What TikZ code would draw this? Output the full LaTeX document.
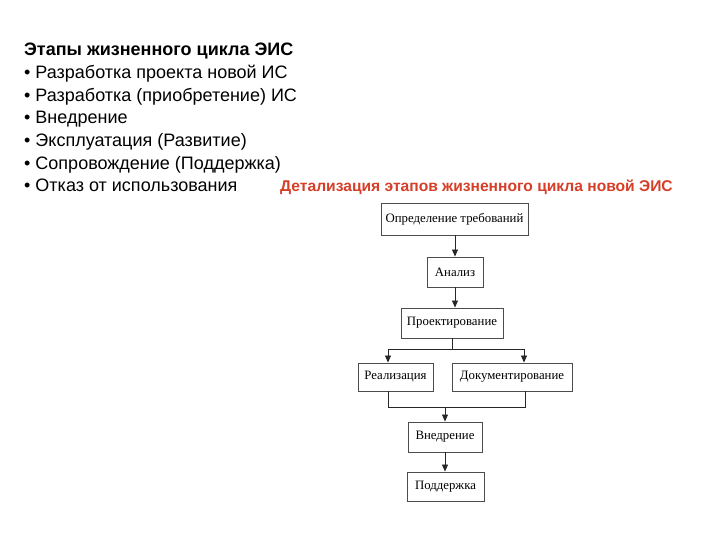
\documentclass[tikz,border=0pt]{standalone}
\usepackage{fontspec}
\setmainfont{Liberation Sans}
\newfontfamily\boxfont{Liberation Serif}
\usetikzlibrary{arrows.meta}
\definecolor{titlered}{RGB}{214,62,40}
\begin{document}
\begin{tikzpicture}[x=1pt,y=-1pt,
  stage/.style={draw=black!70, line width=0.9pt, fill=white, inner sep=0pt,
    font=\boxfont\fontsize{12.8}{14}\selectfont, minimum height=30},
  listline/.style={anchor=base west, inner sep=0pt, font=\fontsize{18}{20}\selectfont},
  link/.style={draw=black!85, line width=0.8pt},
  arr/.style={link, -{Triangle[length=7pt,width=6pt]}}]
\useasboundingbox (0,0) rectangle (720,540);
% left list
\node[listline, font=\bfseries\fontsize{18}{20}\selectfont] (l0) at (24,56) {Этапы жизненного цикла ЭИС};
\node[listline] (l1) at (24,79) {• Разработка проекта новой ИС};
\node[listline] (l2) at (24,102) {• Разработка (приобретение) ИС};
\node[listline] (l3) at (24,124) {• Внедрение};
\node[listline] (l4) at (24,147) {• Эксплуатация (Развитие)};
\node[listline] (l5) at (24,170) {• Сопровождение (Поддержка)};
\node[listline] (l6) at (24,192) {• Отказ от использования};
% title
\node[anchor=base west, inner sep=0pt, text=titlered, font=\bfseries\fontsize{15.6}{17}\selectfont] (title) at (280,192) {Детализация этапов жизненного цикла новой ЭИС};
% boxes
\node[stage, minimum width=147, minimum height=32] (req) at (454.5,219) {Определение требований};
\node[stage, minimum width=56] (an) at (455,272) {Анализ};
\node[stage, minimum width=102] (proj) at (452,323) {Проектирование};
\node[stage, minimum width=75, minimum height=28] (real) at (395.5,377) {Реализация};
\node[stage, minimum width=120, minimum height=28] (doc) at (512,377) {Документирование};
\node[stage, minimum width=74] (vn) at (445,437) {Внедрение};
\node[stage, minimum width=77, minimum height=29] (sup) at (445.5,486.5) {Поддержка};
% connectors
\draw[arr] (an.north |- req.south) -- (an.north);
\draw[arr] (an.south) -- (an.south |- proj.north);
\coordinate (sl) at (388,349);
\coordinate (sr) at (524,349);
\draw[link] (proj.south) -- (proj.south |- sl);
\draw[link] (sl) -- (sr);
\draw[arr] (sl) -- (sl |- real.north);
\draw[arr] (sr) -- (sr |- doc.north);
\coordinate (ml) at (388,407);
\coordinate (mr) at (525,407);
\draw[link] (ml |- real.south) -- (ml) -- (mr) -- (mr |- doc.south);
\draw[arr] (vn.north |- ml) -- (vn.north);
\draw[arr] (vn.south) -- (sup.north -| vn.south);
\end{tikzpicture}
\end{document}
